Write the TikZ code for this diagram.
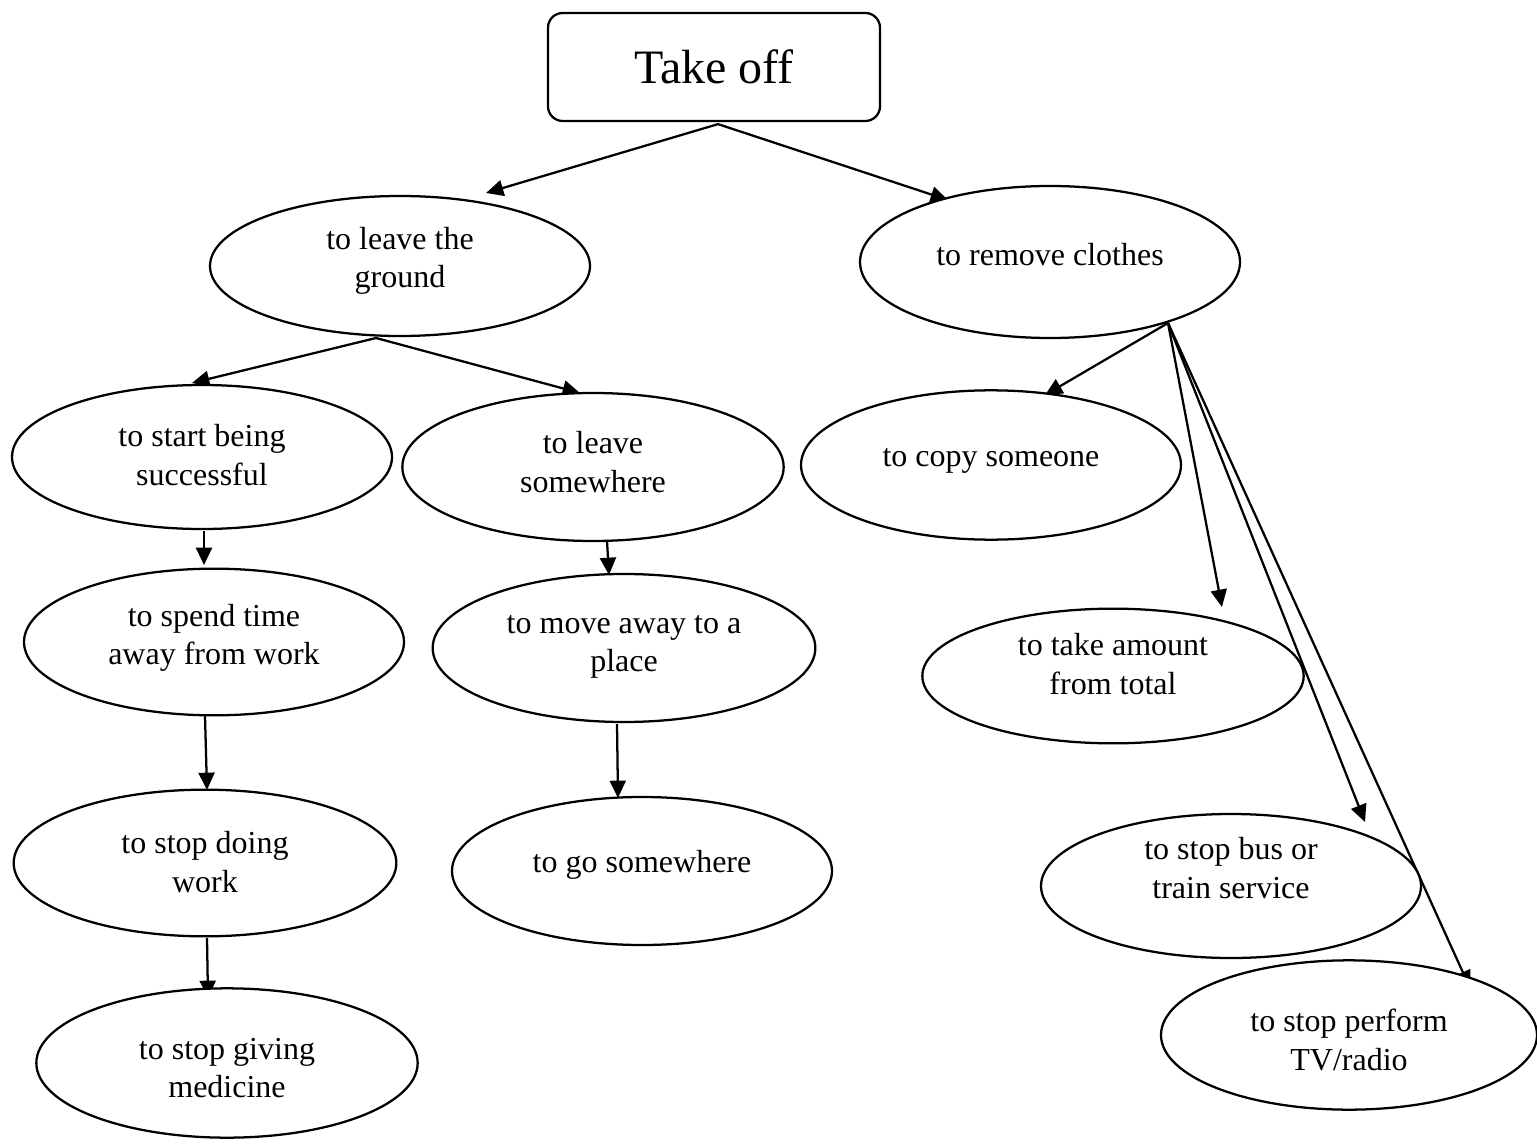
\documentclass[tikz,border=0pt]{standalone}
\usepackage{fontspec}
\setmainfont{Liberation Serif}
\usetikzlibrary{shapes.geometric,arrows.meta,calc,backgrounds}
\begin{document}
\begin{tikzpicture}[x=0.75pt,y=-0.75pt,
  ell/.style={ellipse,draw,line width=1.7pt,fill=white,inner sep=0pt},
  txt/.style={align=center,inner sep=0pt,font=\fontsize{24}{29}\selectfont},
  conn/.style={line width=1.7pt,-{Triangle[length=13pt,width=12pt]}}]
\useasboundingbox (0,0) rectangle (1537,1144);
\node[draw,line width=1.7pt,rounded corners=11pt,minimum width=249pt,minimum height=81pt,
  font=\fontsize{36}{43}\selectfont,inner sep=0pt] (takeoff) at (714,67) {Take off};
\node[ell,minimum width=285pt,minimum height=105pt,label={[txt,yshift=3.75pt]center:to leave the\\ground}] (ground) at (400,266) {};
\node[ell,minimum width=285pt,minimum height=114pt,label={[txt,yshift=5.25pt]center:to remove clothes}] (clothes) at (1050,262) {};
\node[ell,minimum width=285pt,minimum height=108pt,label={[txt,yshift=1.5pt]center:to start being\\successful}] (success) at (202,457) {};
\node[ell,minimum width=286pt,minimum height=111pt,label={[txt,yshift=3.75pt]center:to leave\\somewhere}] (somewhere) at (593,467) {};
\node[ell,minimum width=285pt,minimum height=112pt,label={[txt,yshift=3pt]center:to copy someone}] (copy) at (991,465) {};
\node[ell,minimum width=285pt,minimum height=110pt,label={[txt,yshift=3pt]center:to spend time\\away from work}] (spend) at (214,642) {};
\node[ell,minimum width=287pt,minimum height=111pt,label={[txt,yshift=0.75pt]center:to move away to a\\place}] (moveaway) at (624,648) {};
\node[ell,minimum width=286pt,minimum height=101pt,label={[txt,yshift=9pt]center:to take amount\\from total}] (amount) at (1113,676) {};
\node[ell,minimum width=287pt,minimum height=110pt,label={[txt,yshift=0.75pt]center:to stop doing\\work}] (stopwork) at (205,863) {};
\node[ell,minimum width=285pt,minimum height=111pt,label={[txt,yshift=4.5pt]center:to go somewhere}] (gosomewhere) at (642,871) {};
\node[ell,minimum width=285pt,minimum height=108pt,label={[txt,yshift=13.5pt]center:to stop bus or\\train service}] (bus) at (1231,886) {};
\node[ell,minimum width=286pt,minimum height=112pt,label={[txt,yshift=-3.75pt]center:to stop giving\\medicine}] (medicine) at (227,1063) {};
\node[ell,minimum width=282pt,minimum height=112pt,label={[txt,yshift=-3.75pt]center:to stop perform\\TV/radio}] (perform) at (1349,1035) {};
\begin{pgfonlayer}{background}
\coordinate (t0) at ($(takeoff.south)+(4,2)$);
\coordinate (g0) at ($(ground.center)+(-24,72)$);
\coordinate (c0) at ($(clothes.center)+(118,61)$);
\draw[conn] (t0) -- ($(ground.center)+(86,-73)$);
\draw[conn] (t0) -- ($(clothes.center)+(-102,-62)$);
\draw[conn] (g0) -- ($(success.center)+(-10,-74)$);
\draw[conn] (g0) -- ($(somewhere.center)+(-13,-74)$);
\draw[conn] (c0) -- ($(copy.center)+(54,-70)$);
\draw[conn] (c0) -- ($(amount.center)+(109,-69)$);
\draw[conn] (c0) -- ($(bus.center)+(134,-64)$);
\draw[conn] (c0) -- ($(perform.center)+(121,-47)$);
\draw[conn] ($(success.center)+(2,74)$) -- ($(spend.center)+(-10,-77)$);
\draw[conn] ($(somewhere.center)+(14,74)$) -- ($(moveaway.center)+(-15,-73)$);
\draw[conn] ($(spend.center)+(-9,74)$) -- ($(stopwork.center)+(2,-73)$);
\draw[conn] ($(moveaway.center)+(-7,76)$) -- ($(gosomewhere.center)+(-24,-73)$);
\draw[conn] ($(stopwork.center)+(2,75)$) -- ($(medicine.center)+(-19,-65)$);
\end{pgfonlayer}
\end{tikzpicture}
\end{document}
